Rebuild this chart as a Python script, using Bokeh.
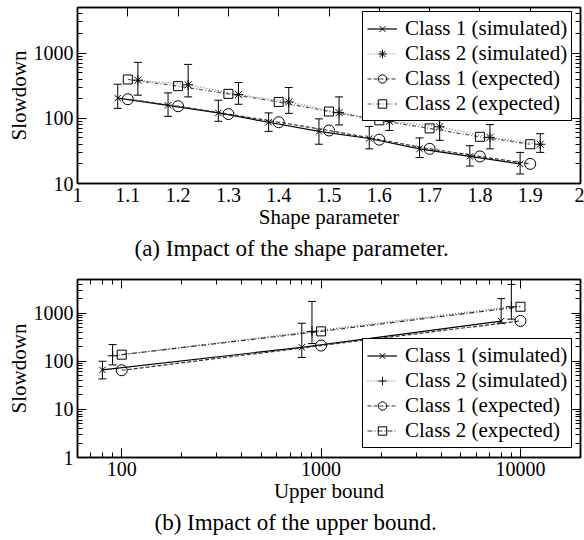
from bokeh.plotting import figure
from bokeh.models import (ColumnDataSource, Whisker, TeeHead, FixedTicker, LinearAxis,
                          LogAxis, Range1d, Legend, LegendItem, Title, CustomJSTickFormatter)
from bokeh.layouts import column
from bokeh.embed import file_html
from bokeh.resources import INLINE

FONT = "Liberation Serif"

# ---- (a) slowdown versus the shape parameter ----
shape = [1.1, 1.2, 1.3, 1.4, 1.5, 1.6, 1.7, 1.8, 1.9]
shape_c1_sim_x = [1.08, 1.18, 1.28, 1.38, 1.48, 1.58, 1.68, 1.78, 1.88]
shape_c2_sim_x = [1.12, 1.22, 1.32, 1.42, 1.52, 1.62, 1.72, 1.82, 1.92]
shape_c1_sim = [204, 158, 121, 87, 63, 49, 34, 26, 20]
shape_c1_sim_hi = [333, 245, 189, 121, 98, 75, 50, 38, 30]
shape_c1_sim_lo = [142, 107, 90, 63, 40, 34, 25, 18.5, 14]
shape_c2_sim = [384, 326, 231, 178, 122, 90, 74, 51, 40]
shape_c2_sim_hi = [720, 670, 354, 296, 213, 122, 119, 80, 58]
shape_c2_sim_lo = [226, 213, 164, 119, 79, 65, 46, 34, 30]
shape_c1_exp = [196, 153, 116, 87, 65, 47, 34, 26, 20]
shape_c2_exp = [394, 311, 237, 178, 127, 93, 70, 52, 40]
shape_ticks = [1, 1.1, 1.2, 1.3, 1.4, 1.5, 1.6, 1.7, 1.8, 1.9, 2]
slowdown_ticks_a = [10, 100, 1000]

# ---- (b) slowdown versus the upper bound ----
bound = [100, 1000, 10000]
bound_c1_sim_x = [80, 800, 8000]
bound_c2_sim_x = [90, 900, 9000]
bound_c1_sim = [66, 195, 680]
bound_c1_sim_hi = [100, 616, 2000]
bound_c1_sim_lo = [43, 120, 620]
bound_c2_sim = [130, 418, 1358]
bound_c2_sim_hi = [222, 1750, 3944]
bound_c2_sim_lo = [84, 233, 750]
bound_c1_exp = [65, 212, 689]
bound_c2_exp = [137, 418, 1358]
bound_ticks = [100, 1000, 10000]
slowdown_ticks_b = [1, 10, 100, 1000]

LABELS = ["Class 1 (simulated)", "Class 2 (simulated)",
          "Class 1 (expected)", "Class 2 (expected)"]


def log_minor(lo, hi):
    out = []
    k = 0.001
    while k < hi * 10:
        for m in range(2, 10):
            v = m * k
            if lo < v < hi:
                out.append(v)
        k *= 10
    return out


def style_axis(ax, labels=True):
    ax.axis_line_color = "black"
    ax.axis_line_width = 1.5
    ax.major_tick_line_color = "black"
    ax.minor_tick_line_color = "black"
    ax.major_tick_in = 9
    ax.major_tick_out = 0
    ax.minor_tick_in = 5
    ax.minor_tick_out = 0
    if labels:
        ax.major_label_text_font = FONT
        ax.major_label_text_font_size = "20px"
        ax.major_label_text_color = "black"
        ax.major_label_standoff = 4
        ax.axis_label_text_font = FONT
        ax.axis_label_text_font_size = "21px"
        ax.axis_label_text_font_style = "normal"
        ax.axis_label_text_color = "black"
        ax.axis_label_standoff = 0
    else:
        # mirrored frame ticks only: the labels are blank and not painted
        ax.formatter = CustomJSTickFormatter(code="return ''")
        ax.major_label_text_font_size = "1px"
        ax.major_label_text_color = None
        ax.major_label_standoff = 0


def panel(height, top, bottom, x_type, x_range, y_range, xticks, xminor, yticks, yminor,
          xlabel, caption, caption_shift, x_bottom_ticks):
    p = figure(width=584, height=height, x_axis_type=x_type, y_axis_type="log",
               x_range=x_range, y_range=y_range, output_backend="svg",
               toolbar_location=None, min_border_left=77, min_border_right=4,
               min_border_top=top, min_border_bottom=bottom)
    p.grid.visible = False
    p.outline_line_color = "black"
    p.outline_line_width = 1.5
    p.background_fill_color = "white"
    p.border_fill_color = "white"

    fmt = CustomJSTickFormatter(code="return String(tick)")
    xa = p.xaxis[0]
    xa.ticker = FixedTicker(ticks=xticks, minor_ticks=xminor)
    xa.formatter = fmt
    xa.axis_label = xlabel
    style_axis(xa)
    if not x_bottom_ticks:
        xa.major_tick_in = 0
        xa.minor_tick_in = 0
    ya = p.yaxis[0]
    ya.ticker = FixedTicker(ticks=yticks, minor_ticks=yminor)
    ya.formatter = fmt
    ya.axis_label = "Slowdown"
    style_axis(ya)

    AxisX = LogAxis if x_type == "log" else LinearAxis
    top_ax = AxisX(ticker=FixedTicker(ticks=xticks, minor_ticks=xminor))
    style_axis(top_ax, labels=False)
    p.add_layout(top_ax, "above")
    right_ax = LogAxis(ticker=FixedTicker(ticks=yticks, minor_ticks=yminor))
    style_axis(right_ax, labels=False)
    p.add_layout(right_ax, "right")

    p.add_layout(Title(text=caption, align="left", text_font=FONT,
                       text_font_size="23px", text_font_style="normal",
                       text_color="black", standoff=4, offset=caption_shift), "below")
    return p


def add_series(p, d, c2_marker, styles):
    src_c1s = ColumnDataSource(dict(x=d["c1s_x"], y=d["c1s"], hi=d["c1s_hi"], lo=d["c1s_lo"]))
    src_c2s = ColumnDataSource(dict(x=d["c2s_x"], y=d["c2s"], hi=d["c2s_hi"], lo=d["c2s_lo"]))
    src_c1e = ColumnDataSource(dict(x=d["x"], y=d["c1e"]))
    src_c2e = ColumnDataSource(dict(x=d["x"], y=d["c2e"]))

    (c1s_col, c1s_dash), (c2s_col, c2s_dash), (c1e_col, c1e_dash), (c2e_col, c2e_dash) = styles
    l1 = p.line("x", "y", source=src_c1s, line_color=c1s_col, line_dash=c1s_dash, line_width=1.2)
    l2 = p.line("x", "y", source=src_c2s, line_color=c2s_col, line_dash=c2s_dash, line_width=1.2)
    l3 = p.line("x", "y", source=src_c1e, line_color=c1e_col, line_dash=c1e_dash, line_width=1.2)
    l4 = p.line("x", "y", source=src_c2e, line_color=c2e_col, line_dash=c2e_dash, line_width=1.2)

    for src in (src_c1s, src_c2s):
        p.add_layout(Whisker(source=src, base="x", upper="hi", lower="lo",
                             line_color="black", line_width=1,
                             upper_head=TeeHead(size=8, line_color="black", line_width=1),
                             lower_head=TeeHead(size=8, line_color="black", line_width=1)))

    m1 = p.scatter("x", "y", source=src_c1s, marker="x", size=9, line_color="black", line_width=1)
    m2 = p.scatter("x", "y", source=src_c2s, marker=c2_marker, size=10, line_color="black", line_width=1)
    m3 = p.scatter("x", "y", source=src_c1e, marker="circle", size=11, line_color="black",
                   fill_color=None, line_width=1)
    m4 = p.scatter("x", "y", source=src_c2e, marker="square", size=9, line_color="black",
                   fill_color=None, line_width=1)
    return [[l1, m1], [l2, m2], [l3, m3], [l4, m4]]


def add_legend(p, groups, loc):
    items = [LegendItem(label=lab, renderers=g) for lab, g in zip(LABELS, groups)]
    lg = Legend(items=items, location=loc, label_text_font=FONT, label_text_font_size="21px",
                label_text_color="black", border_line_color="black", border_line_width=1,
                border_line_alpha=1, background_fill_color="white", background_fill_alpha=1,
                padding=4, spacing=0, margin=0, glyph_width=30, glyph_height=21,
                label_height=21, label_standoff=8)
    p.add_layout(lg)


# panel (a)
pa = panel(262, 7, 79, "linear", Range1d(1, 2), Range1d(10, 5000),
           shape_ticks, [], slowdown_ticks_a, log_minor(10, 5000),
           "Shape parameter", "(a) Impact of the shape parameter.", 57, False)
ga = add_series(pa, dict(x=shape, c1s_x=shape_c1_sim_x, c1s=shape_c1_sim,
                         c1s_hi=shape_c1_sim_hi, c1s_lo=shape_c1_sim_lo,
                         c2s_x=shape_c2_sim_x, c2s=shape_c2_sim,
                         c2s_hi=shape_c2_sim_hi, c2s_lo=shape_c2_sim_lo,
                         c1e=shape_c1_exp, c2e=shape_c2_exp),
                "asterisk",
                [("black", "solid"), ("#777777", "1 2"), ("#333333", "4 2"), ("#555555", "4 2 1 2")])
add_legend(pa, ga, (285, 62))

# panel (b)
pb = panel(278, 17, 83, "log", Range1d(60, 20000), Range1d(1, 5000),
           bound_ticks, log_minor(60, 20000), slowdown_ticks_b, log_minor(1, 5000),
           "Upper bound", "(b) Impact of the upper bound.", 77, True)
gb = add_series(pb, dict(x=bound, c1s_x=bound_c1_sim_x, c1s=bound_c1_sim,
                         c1s_hi=bound_c1_sim_hi, c1s_lo=bound_c1_sim_lo,
                         c2s_x=bound_c2_sim_x, c2s=bound_c2_sim,
                         c2s_hi=bound_c2_sim_hi, c2s_lo=bound_c2_sim_lo,
                         c1e=bound_c1_exp, c2e=bound_c2_exp),
                "cross",
                [("black", "solid"), ("#555555", "1 2"), ("#333333", "4 2"), ("#333333", "5 2 1 2")])
add_legend(pb, gb, (285, 9))

layout = column(pa, pb, spacing=0)
open("out.html", "w").write(file_html(layout, INLINE))
